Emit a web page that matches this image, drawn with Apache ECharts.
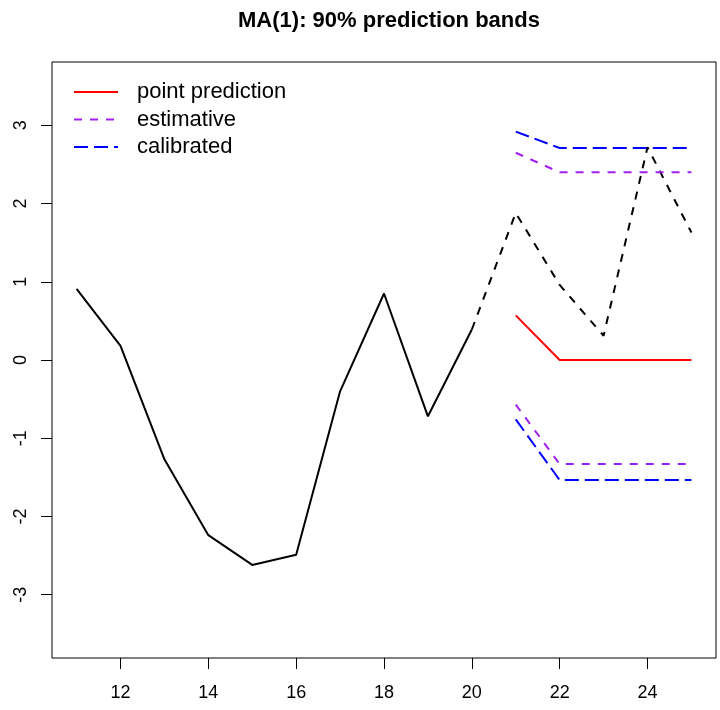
<!DOCTYPE html>
<html>
<head>
<meta charset="utf-8">
<title>MA(1): 90% prediction bands</title>
<script src="https://cdn.jsdelivr.net/npm/echarts@6/dist/echarts.min.js"></script>
<style>
  html, body { margin: 0; padding: 0; background: #fff; }
  #chart { width: 720px; height: 710px; }
</style>
</head>
<body>
<div id="chart"></div>
<script>
// observed series (t = 11..20) and the future path (t = 20..25)
const obsT = [11, 12, 13, 14, 15, 16, 17, 18, 19, 20]
const obsY = [0.91, 0.18, -1.27, -2.24, -2.62, -2.49, -0.40, 0.85, -0.72, 0.39]
const futT = [20, 21, 22, 23, 24, 25]
const futY = [0.39, 1.88, 0.96, 0.31, 2.72, 1.63]

// forecast horizon
const predT = [21, 22, 23, 24, 25]
const pointPred = [0.57, 0, 0, 0, 0]
const estUpper = [2.65, 2.40, 2.40, 2.40, 2.40]
const estLower = [-0.57, -1.33, -1.33, -1.33, -1.33]
const calUpper = [2.92, 2.71, 2.71, 2.71, 2.71]
const calLower = [-0.76, -1.535, -1.535, -1.535, -1.535]

const xTicks = [12, 14, 16, 18, 20, 22, 24]
const yTicks = [-3, -2, -1, 0, 1, 2, 3]

const pairs = (xs, ys) => xs.map((x, i) => [x, ys[i]])

const chart = echarts.init(document.getElementById('chart'))

const lineSeries = (name, xs, ys, color, type) => ({
  name,
  type: 'line',
  data: pairs(xs, ys),
  symbol: 'none',
  silent: true,
  animation: false,
  lineStyle: { color, width: 2, type, cap: 'butt' },
  itemStyle: { color }
})

const option = {
  animation: false,
  title: {
    text: 'MA(1): 90% prediction bands',
    left: 384,
    textAlign: 'center',
    top: 5,
    textStyle: { fontFamily: 'Liberation Sans, Arial', fontSize: 22, fontWeight: 'bold', color: '#000' }
  },
  grid: {
    left: 52,
    right: 4,
    top: 62,
    bottom: 52,
    show: true,
    borderColor: '#000',
    borderWidth: 1,
    backgroundColor: 'transparent'
  },
  legend: {
    left: 68,
    top: 76,
    orient: 'vertical',
    itemWidth: 44,
    itemHeight: 14,
    itemGap: 5.5,
    data: ['point prediction', 'estimative', 'calibrated'],
    itemStyle: { opacity: 0 },
    textStyle: {
      fontFamily: 'Liberation Sans, Arial',
      fontSize: 22,
      lineHeight: 22,
      color: '#000',
      padding: [0, 0, 0, 14]
    },
    selectedMode: false
  },
  xAxis: {
    type: 'value',
    min: 10.44,
    max: 25.56,
    axisLine: { show: false, onZero: false },
    splitLine: { show: false },
    axisTick: {
      show: true,
      length: 11,
      customValues: xTicks,
      lineStyle: { color: '#000', width: 1 }
    },
    axisLabel: {
      customValues: xTicks,
      margin: 26,
      color: '#000',
      fontFamily: 'Liberation Sans, Arial',
      fontSize: 18
    }
  },
  yAxis: {
    type: 'value',
    min: -3.81,
    max: 3.81,
    axisLine: { show: false, onZero: false },
    splitLine: { show: false },
    axisTick: {
      show: true,
      length: 11,
      customValues: yTicks,
      lineStyle: { color: '#000', width: 1 }
    },
    axisLabel: {
      customValues: yTicks,
      rotate: 90,
      margin: 22,
      color: '#000',
      fontFamily: 'Liberation Sans, Arial',
      fontSize: 18
    }
  },
  series: [
    lineSeries('observed', obsT, obsY, '#000', 'solid'),
    lineSeries('future', futT, futY, '#000', [8, 8]),
    lineSeries('point prediction', predT, pointPred, '#ff0000', 'solid'),
    lineSeries('estimative', predT, estUpper, '#a020f0', [8, 8]),
    lineSeries('estimative', predT, estLower, '#a020f0', [8, 8]),
    lineSeries('calibrated', predT, calUpper, '#0000ff', [14, 6]),
    lineSeries('calibrated', predT, calLower, '#0000ff', [14, 6])
  ]
}

chart.setOption(option)
</script>
</body>
</html>
